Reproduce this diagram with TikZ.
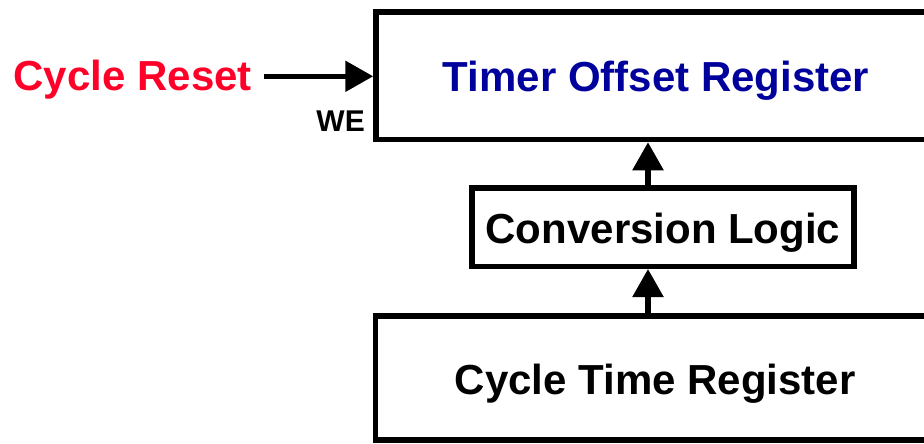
\documentclass[tikz,border=0pt]{standalone}
\usepackage{fontspec}
\setmainfont{Liberation Sans}
\usetikzlibrary{arrows.meta}
\definecolor{resetred}{RGB}{255,0,40}
\definecolor{regblue}{RGB}{0,0,156}
\tikzset{
    regbox/.style={draw, line width=5.5pt, inner sep=0pt, text height=32pt, text depth=0pt, font=\fontsize{42}{46}\selectfont\bfseries},
    sig/.style={line width=5.5pt, -{Triangle[length=28pt,width=30pt]}}
}
\begin{document}
\begin{tikzpicture}[x=1pt,y=-1pt]
        \clip (0,0) rectangle (924,444);
        %boxes
        \node[regbox, minimum width=570pt, minimum height=127.5pt, text=regblue] (offset) at (661,75.75) {\hspace*{-10pt}Timer Offset Register};
        \node[regbox, minimum width=382pt, minimum height=78.5pt] (conv) at (663,227) {Conversion Logic};
        \node[regbox, minimum width=570pt, minimum height=124pt] (cycle) at (660.3,378) {\hspace*{-10pt}Cycle Time Register};
        %labels
        \node[text=resetred, font=\fontsize{42}{46}\selectfont\bfseries, text height=30pt, text depth=0pt, anchor=east, inner sep=0pt] (reset) at (252,75) {Cycle Reset};
        \node[font=\fontsize{30}{34}\selectfont\bfseries, anchor=east, inner sep=0pt] (we) at (365,121) {WE};
        %arrows
        \draw[sig] (reset.east) ++(12,1.3) coordinate (rs) -- (rs -| offset.west);
        \draw[sig] (conv.north -| 648,0) coordinate (c1) -- (c1 |- offset.south);
        \draw[sig] (cycle.north -| 648,0) coordinate (c2) -- (c2 |- conv.south);
\end{tikzpicture}
\end{document}
